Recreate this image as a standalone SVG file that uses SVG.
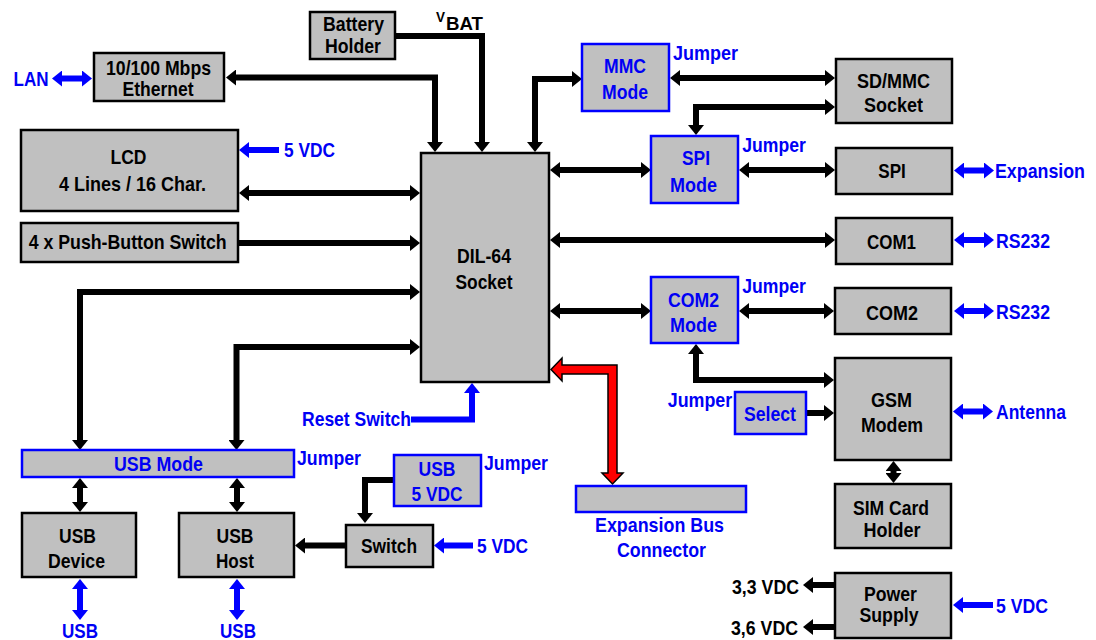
<svg xmlns="http://www.w3.org/2000/svg" width="1096" height="640" viewBox="0 0 1096 640">
<style>
.t{font-family:"Liberation Sans",Arial,sans-serif;font-weight:bold;font-size:21px;text-anchor:middle;fill:#000}
.b{fill:#0000F5}
.bx{fill:#C0C0C0;stroke:#000;stroke-width:2.5}
.bb{fill:#C0C0C0;stroke:#0000FF;stroke-width:2.5}
.c{fill:none;stroke:#000;stroke-width:6;stroke-linejoin:miter}
.cb{fill:none;stroke:#0000FF;stroke-width:6;stroke-linejoin:miter}
</style>
<defs>
<marker id="ak" markerUnits="userSpaceOnUse" markerWidth="10" markerHeight="16" viewBox="0 0 10 16" refX="0" refY="8" orient="auto-start-reverse"><path d="M0,0L10,8L0,16z" fill="#000"/></marker>
<marker id="ab" markerUnits="userSpaceOnUse" markerWidth="10" markerHeight="16" viewBox="0 0 10 16" refX="0" refY="8" orient="auto-start-reverse"><path d="M0,0L10,8L0,16z" fill="#0000FF"/></marker>
</defs>
<rect width="1096" height="640" fill="#fff"/>

<g id="connectors">
<path class="c" d="M395,36H482V142" marker-end="url(#ak)"/>
<path class="c" d="M236,77.5H435V142" marker-start="url(#ak)" marker-end="url(#ak)"/>
<path class="c" d="M535,142V79H572" marker-start="url(#ak)" marker-end="url(#ak)"/>
<path class="c" d="M249,193H410" marker-start="url(#ak)" marker-end="url(#ak)"/>
<path class="c" d="M238,243H410" marker-end="url(#ak)"/>
<path class="c" d="M410,292H80V440" marker-start="url(#ak)" marker-end="url(#ak)"/>
<path class="c" d="M410,347H236.5V440" marker-start="url(#ak)" marker-end="url(#ak)"/>
<path class="cb" d="M411,419.5H472V393" marker-end="url(#ab)"/>
<path class="c" d="M560,170H641" marker-start="url(#ak)" marker-end="url(#ak)"/>
<path class="c" d="M749,170H825" marker-start="url(#ak)" marker-end="url(#ak)"/>
<path class="c" d="M680,78H825" marker-start="url(#ak)" marker-end="url(#ak)"/>
<path class="c" d="M825,107H696V125" marker-start="url(#ak)" marker-end="url(#ak)"/>
<path class="c" d="M560,240H825" marker-start="url(#ak)" marker-end="url(#ak)"/>
<path class="c" d="M560,311H641" marker-start="url(#ak)" marker-end="url(#ak)"/>
<path class="c" d="M749,311H824" marker-start="url(#ak)" marker-end="url(#ak)"/>
<path class="c" d="M696,354V380H824" marker-start="url(#ak)" marker-end="url(#ak)"/>
<path class="c" d="M806,413H824" marker-end="url(#ak)"/>
<path class="c" d="M893.5,471V473" marker-start="url(#ak)" marker-end="url(#ak)"/>
<path class="c" d="M80,488V502" marker-start="url(#ak)" marker-end="url(#ak)"/>
<path class="c" d="M237,488V502" marker-start="url(#ak)" marker-end="url(#ak)"/>
<path class="cb" d="M80,589V610" marker-start="url(#ab)" marker-end="url(#ab)"/>
<path class="cb" d="M237,589V610" marker-start="url(#ab)" marker-end="url(#ab)"/>
<path class="c" d="M394,480H365V513" marker-end="url(#ak)"/>
<path class="c" d="M346,545.5H305" marker-end="url(#ak)"/>
<path class="cb" d="M473,545.5H444" marker-end="url(#ab)"/>
<path class="cb" d="M279,150H249" marker-end="url(#ab)"/>
<path class="cb" d="M62,78.5H82" marker-start="url(#ab)" marker-end="url(#ab)"/>
<path class="cb" d="M964,170.5H984" marker-start="url(#ab)" marker-end="url(#ab)"/>
<path class="cb" d="M964,240H984" marker-start="url(#ab)" marker-end="url(#ab)"/>
<path class="cb" d="M964,311H984" marker-start="url(#ab)" marker-end="url(#ab)"/>
<path class="cb" d="M963,411.5H983" marker-start="url(#ab)" marker-end="url(#ab)"/>
<path class="cb" d="M993,605H963" marker-end="url(#ab)"/>
<path class="c" d="M835,585H813" marker-end="url(#ak)"/>
<path class="c" d="M835,627H813" marker-end="url(#ak)"/>
<polygon points="551,369.5 562,358 562,365 617,365 617,473 623,473 612.5,484 602,473 608,473 608,374 562,374 562,381" fill="#FF0000" stroke="#000" stroke-width="1.5" stroke-linejoin="miter"/>
</g>

<g id="battery"><rect class="bx" x="310" y="12" width="85" height="47"/>
<text class="t" x="353.5" y="31" textLength="61" lengthAdjust="spacingAndGlyphs">Battery</text>
<text class="t" x="353" y="53" textLength="56" lengthAdjust="spacingAndGlyphs">Holder</text></g>
<g id="vbat"><text class="t" x="436" y="22" style="text-anchor:start;font-size:14px" textLength="9" lengthAdjust="spacingAndGlyphs">V</text>
<text class="t" x="446" y="30" style="text-anchor:start;font-size:18px" textLength="37" lengthAdjust="spacingAndGlyphs">BAT</text></g>
<g id="ethernet"><rect class="bx" x="94" y="53" width="130" height="48"/>
<text class="t" x="158.5" y="74.5" textLength="105" lengthAdjust="spacingAndGlyphs">10/100 Mbps</text>
<text class="t" x="158" y="95.5" textLength="71" lengthAdjust="spacingAndGlyphs">Ethernet</text></g>
<g id="lan"><text class="t b" x="31" y="86" textLength="35" lengthAdjust="spacingAndGlyphs">LAN</text></g>
<g id="lcd"><rect class="bx" x="21" y="130" width="217" height="81"/>
<text class="t" x="128.5" y="164" textLength="36" lengthAdjust="spacingAndGlyphs">LCD</text>
<text class="t" x="132.5" y="191" textLength="147" lengthAdjust="spacingAndGlyphs">4 Lines / 16 Char.</text></g>
<g id="lcd-5vdc"><text class="t b" x="309.5" y="157" textLength="51" lengthAdjust="spacingAndGlyphs">5 VDC</text></g>
<g id="pushbutton"><rect class="bx" x="21" y="223" width="217" height="39"/>
<text class="t" x="127.7" y="249" textLength="198" lengthAdjust="spacingAndGlyphs">4 x Push-Button Switch</text></g>
<g id="dil64"><rect class="bx" x="421" y="153" width="128" height="229"/>
<text class="t" x="484" y="263" textLength="54" lengthAdjust="spacingAndGlyphs">DIL-64</text>
<text class="t" x="484" y="289" textLength="57" lengthAdjust="spacingAndGlyphs">Socket</text></g>
<g id="mmc-mode"><rect class="bb" x="582" y="44" width="87" height="67"/>
<text class="t b" x="625" y="73" textLength="42" lengthAdjust="spacingAndGlyphs">MMC</text>
<text class="t b" x="625" y="99" textLength="46" lengthAdjust="spacingAndGlyphs">Mode</text>
<text class="t b" x="705.5" y="60" textLength="65" lengthAdjust="spacingAndGlyphs">Jumper</text></g>
<g id="sdmmc"><rect class="bx" x="836" y="59" width="116" height="64"/>
<text class="t" x="893.5" y="88" textLength="73" lengthAdjust="spacingAndGlyphs">SD/MMC</text>
<text class="t" x="893.5" y="112" textLength="59" lengthAdjust="spacingAndGlyphs">Socket</text></g>
<g id="spi-mode"><rect class="bb" x="651" y="136" width="87" height="67"/>
<text class="t b" x="696" y="165" textLength="28" lengthAdjust="spacingAndGlyphs">SPI</text>
<text class="t b" x="693.5" y="192" textLength="47" lengthAdjust="spacingAndGlyphs">Mode</text>
<text class="t b" x="774" y="152" textLength="63.5" lengthAdjust="spacingAndGlyphs">Jumper</text></g>
<g id="spi"><rect class="bx" x="836" y="148" width="116" height="46"/>
<text class="t" x="892" y="178" textLength="27.5" lengthAdjust="spacingAndGlyphs">SPI</text></g>
<g id="expansion"><text class="t b" x="1040" y="178" textLength="90" lengthAdjust="spacingAndGlyphs">Expansion</text></g>
<g id="com1"><rect class="bx" x="836" y="218" width="116" height="46"/>
<text class="t" x="891.5" y="249" textLength="49" lengthAdjust="spacingAndGlyphs">COM1</text></g>
<g id="rs232-1"><text class="t b" x="1023" y="248" textLength="54" lengthAdjust="spacingAndGlyphs">RS232</text></g>
<g id="com2-mode"><rect class="bb" x="651" y="277" width="87" height="66"/>
<text class="t b" x="693.5" y="307" textLength="51" lengthAdjust="spacingAndGlyphs">COM2</text>
<text class="t b" x="693.5" y="332" textLength="47" lengthAdjust="spacingAndGlyphs">Mode</text>
<text class="t b" x="774" y="293" textLength="63.5" lengthAdjust="spacingAndGlyphs">Jumper</text></g>
<g id="com2"><rect class="bx" x="835" y="288" width="116" height="46"/>
<text class="t" x="892" y="320" textLength="52" lengthAdjust="spacingAndGlyphs">COM2</text></g>
<g id="rs232-2"><text class="t b" x="1023" y="319" textLength="54" lengthAdjust="spacingAndGlyphs">RS232</text></g>
<g id="gsm"><rect class="bx" x="835" y="358" width="116" height="102"/>
<text class="t" x="891.5" y="407" textLength="41" lengthAdjust="spacingAndGlyphs">GSM</text>
<text class="t" x="892" y="432" textLength="62" lengthAdjust="spacingAndGlyphs">Modem</text></g>
<g id="select"><rect class="bb" x="735" y="392" width="71" height="42"/>
<text class="t b" x="770" y="421" textLength="52" lengthAdjust="spacingAndGlyphs">Select</text>
<text class="t b" x="700" y="407" textLength="64.5" lengthAdjust="spacingAndGlyphs">Jumper</text></g>
<g id="antenna"><text class="t b" x="1031" y="419" textLength="70" lengthAdjust="spacingAndGlyphs">Antenna</text></g>
<g id="sim"><rect class="bx" x="835" y="484" width="116" height="64"/>
<text class="t" x="891" y="515" textLength="76" lengthAdjust="spacingAndGlyphs">SIM Card</text>
<text class="t" x="892" y="537" textLength="57" lengthAdjust="spacingAndGlyphs">Holder</text></g>
<g id="power"><rect class="bx" x="835" y="573" width="116" height="65"/>
<text class="t" x="890.5" y="601" textLength="53" lengthAdjust="spacingAndGlyphs">Power</text>
<text class="t" x="889" y="622" textLength="59" lengthAdjust="spacingAndGlyphs">Supply</text></g>
<g id="power-labels"><text class="t" x="765.5" y="594" textLength="67" lengthAdjust="spacingAndGlyphs">3,3 VDC</text>
<text class="t" x="764.5" y="635" textLength="67" lengthAdjust="spacingAndGlyphs">3,6 VDC</text>
<text class="t b" x="1022" y="613" textLength="52" lengthAdjust="spacingAndGlyphs">5 VDC</text></g>
<g id="expansion-bus"><rect class="bb" x="576" y="486" width="170" height="26"/>
<text class="t b" x="659.5" y="532" textLength="129" lengthAdjust="spacingAndGlyphs">Expansion Bus</text>
<text class="t b" x="661.5" y="557" textLength="89" lengthAdjust="spacingAndGlyphs">Connector</text></g>
<g id="reset"><text class="t b" x="356.5" y="426" textLength="109" lengthAdjust="spacingAndGlyphs">Reset Switch</text></g>
<g id="usb-mode"><rect class="bb" x="22" y="450" width="272" height="27"/>
<text class="t b" x="158.5" y="471" textLength="89" lengthAdjust="spacingAndGlyphs">USB Mode</text>
<text class="t b" x="329" y="465" textLength="64" lengthAdjust="spacingAndGlyphs">Jumper</text></g>
<g id="usb-5vdc"><rect class="bb" x="394" y="455" width="87" height="51"/>
<text class="t b" x="437" y="476" textLength="37" lengthAdjust="spacingAndGlyphs">USB</text>
<text class="t b" x="437" y="501" textLength="51" lengthAdjust="spacingAndGlyphs">5 VDC</text>
<text class="t b" x="516" y="470" textLength="64" lengthAdjust="spacingAndGlyphs">Jumper</text></g>
<g id="switch"><rect class="bx" x="346" y="525" width="87" height="42"/>
<text class="t" x="389" y="553" textLength="56" lengthAdjust="spacingAndGlyphs">Switch</text>
<text class="t b" x="502.5" y="553" textLength="51" lengthAdjust="spacingAndGlyphs">5 VDC</text></g>
<g id="usb-device"><rect class="bx" x="22" y="513" width="114" height="64"/>
<text class="t" x="77.5" y="543" textLength="37" lengthAdjust="spacingAndGlyphs">USB</text>
<text class="t" x="76.5" y="568" textLength="57" lengthAdjust="spacingAndGlyphs">Device</text>
<text class="t b" x="80" y="638" textLength="36" lengthAdjust="spacingAndGlyphs">USB</text></g>
<g id="usb-host"><rect class="bx" x="179" y="513" width="115" height="64"/>
<text class="t" x="235" y="543" textLength="37" lengthAdjust="spacingAndGlyphs">USB</text>
<text class="t" x="235" y="568" textLength="38" lengthAdjust="spacingAndGlyphs">Host</text>
<text class="t b" x="238" y="638" textLength="36" lengthAdjust="spacingAndGlyphs">USB</text></g>
</svg>
